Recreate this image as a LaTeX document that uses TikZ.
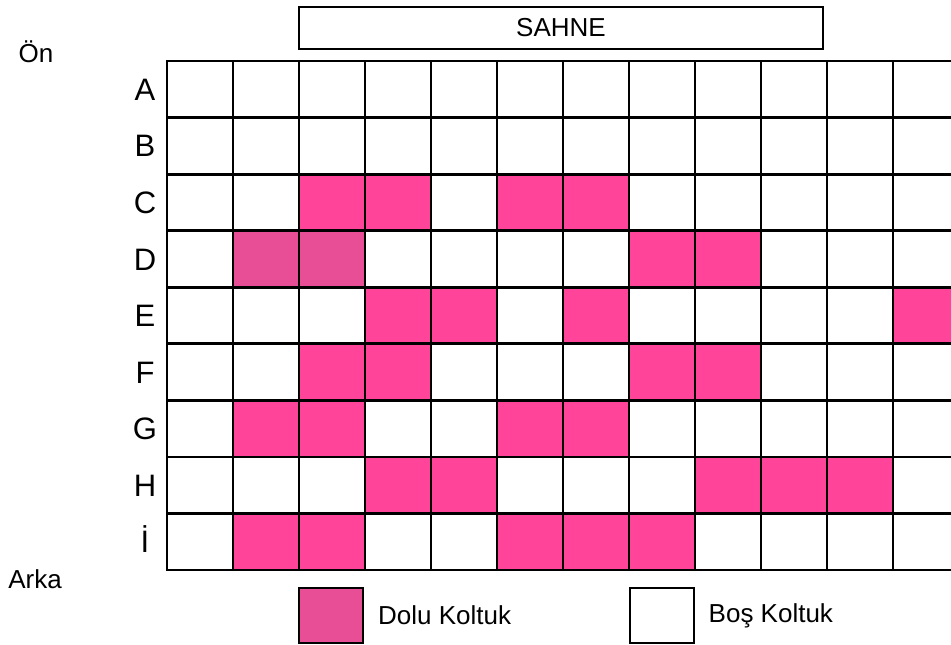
\documentclass[tikz,border=0pt]{standalone}
\usepackage{fontspec}
\setmainfont{Liberation Sans}
\usetikzlibrary{positioning}
\definecolor{taken}{HTML}{FF4499}
\definecolor{takendark}{HTML}{E84E96}
\tikzset{
  seat/.style={minimum width=66pt,minimum height=56.56pt,inner sep=0pt},
  grid/.style={seat,draw,line width=2.8pt},
  rowname/.style={font=\fontsize{31}{36}\selectfont,inner sep=0pt,anchor=base},
  txt/.style={font=\fontsize{26}{30}\selectfont,inner sep=0pt},
  key/.style={draw,line width=2pt,minimum width=64pt,minimum height=55pt,inner sep=0pt},
}
\begin{document}
\begin{tikzpicture}[x=1pt,y=-1pt]
  \useasboundingbox (0,0) rectangle (951,645);
  \clip (0,0) rectangle (951,645);
  % occupied seats
  \foreach \ro/\cols in {2/{2,3,5,6},3/{7,8},4/{3,4,6,11},5/{2,3,7,8},6/{1,2,5,6},7/{3,4,8,9,10},8/{1,2,5,6,7}}
    \foreach \co in \cols
      \node[seat,fill=taken] (f-\ro-\co) at (200+66*\co,89.28+56.56*\ro) {};
  \foreach \co in {1,2}
    \node[seat,fill=takendark] (d-\co) at (200+66*\co,89.28+56.56*3) {};
  % seat grid
  \foreach \ro in {0,...,8}
    \foreach \co in {0,...,11}
      \node[grid] (s-\ro-\co) at (200+66*\co,89.28+56.56*\ro) {};
  \foreach \l [count=\i from 0] in {A,B,C,D,E,F,G,H,İ}
    \node[rowname] (r-\i) at (145,100.4+56.56*\i) {\l};

  \node[draw,line width=2.4pt,minimum width=524pt,minimum height=42pt,txt] (stage) at (561,28) {SAHNE};
  \node[txt,anchor=base] (front) at (36,62) {Ön};
  \node[txt,anchor=base] (back) at (35,588) {Arka};

  \node[key,fill=takendark] (fullkey) at (331,615.5) {};
  \node[txt,right=14pt of fullkey] (fulltext) {Dolu Koltuk};
  \node[key] (emptykey) at (661.5,615.5) {};
  \node[txt,right=14pt of emptykey] (emptytext) {Boş Koltuk};
\end{tikzpicture}
\end{document}
